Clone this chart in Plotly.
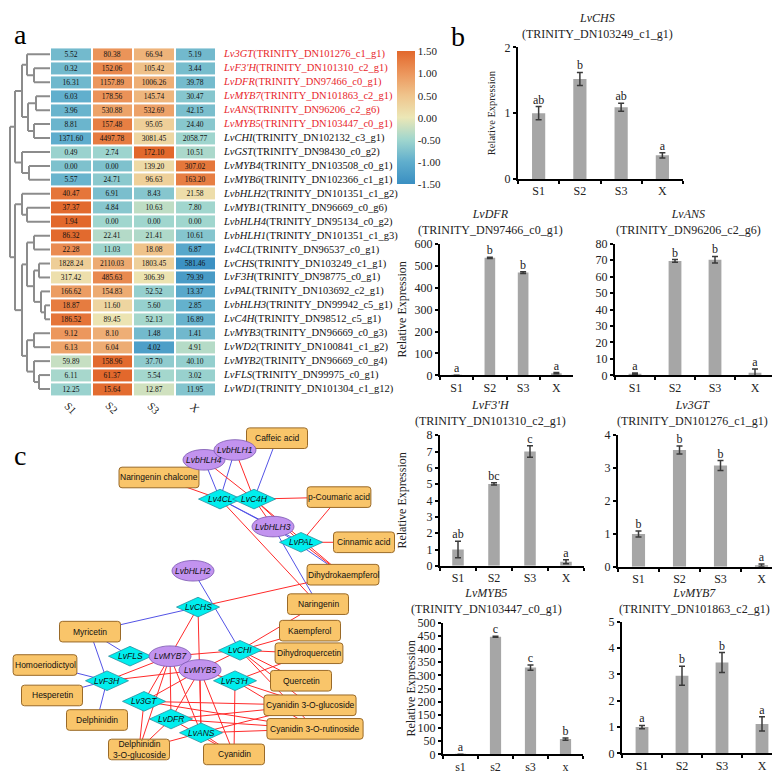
import numpy as np
import plotly.graph_objects as go

W, H = 780, 774
def fx(p): return p / W
def fy(p): return 1 - p / H

SERIF = "Liberation Serif, Times New Roman, serif"
SANS = "Liberation Sans, Arial, sans-serif"

# ---------------- heatmap data ----------------
samples = ["S1", "S2", "S3", "X"]
genes = ["Lv3GT", "LvF3'H", "LvDFR", "LvMYB7", "LvANS", "LvMYB5", "LvCHI", "LvGST", "LvMYB4",
         "LvMYB6", "LvbHLH2", "LvMYB1", "LvbHLH4", "LvbHLH1", "Lv4CL", "LvCHS", "LvF3H", "LvPAL",
         "LvbHLH3", "LvC4H", "LvMYB3", "LvWD2", "LvMYB2", "LvFLS", "LvWD1"]
trinity = ["TRINITY_DN101276_c1_g1", "TRINITY_DN101310_c2_g1", "TRINITY_DN97466_c0_g1",
           "TRINITY_DN101863_c2_g1", "TRINITY_DN96206_c2_g6", "TRINITY_DN103447_c0_g1",
           "TRINITY_DN102132_c3_g1", "TRINITY_DN98430_c0_g2", "TRINITY_DN103508_c0_g1",
           "TRINITY_DN102366_c1_g1", "TRINITY_DN101351_c1_g2", "TRINITY_DN96669_c0_g6",
           "TRINITY_DN95134_c0_g2", "TRINITY_DN101351_c1_g3", "TRINITY_DN96537_c0_g1",
           "TRINITY_DN103249_c1_g1", "TRINITY_DN98775_c0_g1", "TRINITY_DN103692_c2_g1",
           "TRINITY_DN99942_c5_g1", "TRINITY_DN98512_c5_g1", "TRINITY_DN96669_c0_g3",
           "TRINITY_DN100841_c1_g2", "TRINITY_DN96669_c0_g4", "TRINITY_DN99975_c0_g1",
           "TRINITY_DN101304_c1_g12"]
highlighted = ["Lv3GT", "LvF3'H", "LvDFR", "LvMYB7", "LvANS", "LvMYB5"]
fpkm_s1 = [5.52, 0.32, 16.31, 6.03, 3.96, 8.81, 1371.60, 0.49, 0.00, 5.57, 40.47, 37.37, 1.94,
           86.32, 22.28, 1828.24, 317.42, 166.62, 18.87, 186.52, 9.12, 6.13, 59.89, 6.11, 12.25]
fpkm_s2 = [80.38, 152.06, 1157.89, 178.56, 530.88, 157.48, 4497.78, 2.74, 0.00, 24.71, 6.91, 4.84,
           0.00, 22.41, 11.03, 2110.03, 485.63, 154.83, 11.60, 89.45, 8.10, 6.04, 158.96, 61.37, 15.64]
fpkm_s3 = [66.94, 105.42, 1006.26, 145.74, 532.69, 95.05, 3081.45, 172.10, 139.20, 96.63, 8.43,
           10.63, 0.00, 21.41, 18.08, 1803.45, 306.39, 52.52, 5.60, 52.13, 1.48, 4.02, 37.70, 5.54, 12.87]
fpkm_x = [5.19, 3.44, 39.78, 30.47, 42.15, 24.40, 2058.77, 10.51, 307.02, 163.20, 21.58, 7.80, 0.00,
          10.61, 6.87, 581.46, 79.39, 13.37, 2.85, 16.89, 1.41, 4.91, 40.10, 3.02, 11.95]
cbar_ticks = [1.5, 1.0, 0.5, 0.0, -0.5, -1.0, -1.5]

# dendrogram (merge height, left, right); leaves are row indices
top_tree = (35, (28, (23, 0, (16, 1, 2)), (22, (14, 3, 4), (16, 5, 6))), (28, 7, (21, 8, 9)))
bottom_tree = (35, (28, 10, (23, 11, 12)),
               (28, (23, (16, 13, 14), (16, (11, 15, 16), (9, 17, (5, 18, 19)))),
                (23, (16, 20, 21), (16, 22, (11, 23, 24)))))
row_tree = (40, top_tree, bottom_tree)

# ---------------- qRT-PCR bar data ----------------
chs_mean = [1.00, 1.52, 1.09, 0.36]; chs_err = [0.10, 0.10, 0.06, 0.04]; chs_sig = ["ab", "b", "ab", "a"]
dfr_mean = [0.8, 536, 469, 10]; dfr_err = [0.3, 3, 4, 3]; dfr_sig = ["a", "b", "b", "a"]
ans_mean = [1.0, 69.6, 70.3, 1.6]; ans_err = [0.5, 0.8, 2.0, 2.2]; ans_sig = ["a", "b", "b", "a"]
f3ph_mean = [1.0, 5.02, 7.0, 0.25]; f3ph_err = [0.5, 0.07, 0.35, 0.12]; f3ph_sig = ["ab", "bc", "c", "a"]
gt_mean = [1.0, 3.55, 3.08, 0.05]; gt_err = [0.09, 0.12, 0.15, 0.04]; gt_sig = ["b", "b", "b", "a"]
myb5_mean = [0.5, 447, 330, 58]; myb5_err = [0.3, 2, 10, 4]; myb5_sig = ["a", "c", "c", "b"]
myb7_mean = [1.0, 2.95, 3.45, 1.12]; myb7_err = [0.06, 0.36, 0.38, 0.27]; myb7_sig = ["a", "b", "b", "a"]
samples_lower = ["s1", "s2", "s3", "x"]

# ---------------- network data ----------------
node_names = ["Caffeic acid", "Naringenin chalcone", "p-Coumaric acid", "Cinnamic acid",
              "Dihydrokaempferol", "Naringenin", "Kaempferol", "Dihydroquercetin", "Quercetin",
              "Cyanidin 3-O-glucoside", "Cyanidin 3-O-rutinoside", "Cyanidin",
              "Delphinidin 3-O-glucoside", "Delphinidin", "Hesperetin", "Homoeriodictyol", "Myricetin",
              "Lv4CL", "LvC4H", "LvPAL", "LvCHS", "LvFLS", "LvCHI", "LvF3H", "LvF3'H", "Lv3GT",
              "LvDFR", "LvANS", "LvbHLH4", "LvbHLH1", "LvbHLH3", "LvbHLH2", "LvMYB7", "LvMYB5"]
node_kind = ["compound"] * 17 + ["enzyme"] * 11 + ["tf"] * 6
node_x = [269, 151, 331, 356, 335, 310, 302, 301, 293, 302, 307, 226, 131, 89, 44, 37, 82,
          212, 246, 293, 190, 122, 232, 99, 227, 136, 163, 193, 196, 227, 265, 185, 162, 192]
node_y = [431, 471, 491, 537, 570, 600, 627, 650, 678, 703, 727, 753, 748, 718, 693, 662, 628,
          493, 493, 537, 603, 653, 647, 678, 678, 699, 717, 731, 453, 443, 521, 566, 653, 667]
neg_edges = [("LvbHLH4", "Lv4CL"), ("LvbHLH1", "Lv4CL"), ("Caffeic acid", "LvC4H"),
             ("Lv4CL", "LvbHLH3"), ("Lv4CL", "LvPAL"), ("LvbHLH3", "Dihydrokaempferol"),
             ("LvbHLH3", "Naringenin"), ("LvbHLH2", "LvCHI"), ("LvCHS", "Myricetin"),
             ("Myricetin", "LvFLS"), ("Myricetin", "LvF3H"), ("Homoeriodictyol", "LvF3H"),
             ("Hesperetin", "LvF3H"), ("Delphinidin", "LvF3H")]
pos_edges = [("LvbHLH4", "LvC4H"), ("LvbHLH1", "LvC4H"), ("Naringenin chalcone", "Lv4CL"),
             ("LvC4H", "p-Coumaric acid"), ("LvC4H", "LvbHLH3"), ("LvC4H", "LvPAL"),
             ("LvC4H", "Dihydrokaempferol"), ("LvPAL", "Cinnamic acid"), ("LvPAL", "p-Coumaric acid"),
             ("LvPAL", "Dihydrokaempferol"), ("Lv4CL", "Naringenin"), ("Dihydrokaempferol", "LvCHS"),
             ("LvCHS", "LvMYB7"), ("LvCHS", "LvANS"), ("Naringenin", "LvCHI"), ("Kaempferol", "LvCHI"),
             ("LvCHI", "Dihydroquercetin"), ("LvCHI", "Quercetin"), ("LvCHI", "Cyanidin 3-O-glucoside"),
             ("LvCHI", "Cyanidin 3-O-rutinoside"), ("LvCHI", "LvMYB7"), ("LvCHI", "LvMYB5"),
             ("Dihydroquercetin", "LvF3'H"), ("LvF3'H", "Cyanidin"), ("LvF3'H", "Cyanidin 3-O-glucoside"),
             ("LvF3'H", "Cyanidin 3-O-rutinoside"), ("LvF3'H", "LvMYB5"), ("LvF3H", "LvMYB7"),
             ("LvF3H", "LvMYB5"), ("LvMYB7", "Lv3GT"), ("LvMYB7", "LvDFR"), ("LvMYB7", "LvANS"),
             ("LvMYB7", "Delphinidin 3-O-glucoside"), ("LvMYB5", "Lv3GT"), ("LvMYB5", "LvDFR"),
             ("LvMYB5", "LvANS"), ("LvMYB5", "Cyanidin"), ("Lv3GT", "Cyanidin 3-O-glucoside"),
             ("Lv3GT", "Cyanidin 3-O-rutinoside"), ("Lv3GT", "Delphinidin 3-O-glucoside"),
             ("LvDFR", "Cyanidin 3-O-glucoside"), ("LvDFR", "Cyanidin 3-O-rutinoside"),
             ("LvDFR", "Delphinidin 3-O-glucoside"), ("LvDFR", "Cyanidin"),
             ("LvANS", "Cyanidin 3-O-glucoside"), ("LvANS", "Cyanidin 3-O-rutinoside"),
             ("LvANS", "Delphinidin 3-O-glucoside"), ("LvANS", "Cyanidin")]

# =====================================================================
fig = go.Figure()
lay = {}

# ---- heatmap ----
vals = np.array([fpkm_s1, fpkm_s2, fpkm_s3, fpkm_x]).T
zrow = (vals - vals.mean(axis=1, keepdims=True)) / vals.std(axis=1, ddof=1, keepdims=True)
cells_txt = [[f"{v:.2f}" for v in row] for row in vals]
cscale = [[0.0, "rgb(58,143,194)"], [0.1667, "rgb(96,174,205)"], [0.3333, "rgb(160,214,206)"],
          [0.5, "rgb(236,231,182)"], [0.6667, "rgb(239,196,140)"], [0.8333, "rgb(236,150,92)"],
          [1.0, "rgb(226,104,44)"]]
fig.add_trace(go.Heatmap(
    z=zrow, x=list(range(4)), y=list(range(len(genes))), text=cells_txt, texttemplate="%{text}",
    textfont=dict(family=SERIF, size=7.5, color="#111"), colorscale=cscale, zmin=-1.5, zmax=1.5,
    xgap=2, ygap=2, xaxis="x", yaxis="y", hoverinfo="skip",
    colorbar=dict(x=fx(389), xanchor="left", y=fy(37), yanchor="top", len=135 / H, lenmode="fraction",
                  thickness=18, thicknessmode="pixels", xpad=0, ypad=0, outlinewidth=0,
                  tickvals=cbar_ticks, ticktext=[f"{t:.2f}" for t in cbar_ticks], ticks="",
                  tickfont=dict(family=SERIF, size=11, color="#222"))))
lay["xaxis"] = dict(domain=[fx(42), fx(208)], range=[-0.5, 3.5], visible=False, fixedrange=True)
lay["yaxis"] = dict(domain=[fy(388), fy(33)], range=[len(genes) - 0.5, -0.5], visible=False, fixedrange=True)

# ---- dendrogram ----
dx, dy = [], []
def walk(node):
    if isinstance(node, int):
        return float(node), 0.0
    h, left, right = node
    yl, hl = walk(left)
    yr, hr = walk(right)
    dx.extend([hl, h, None, hr, h, None, h, h, None])
    dy.extend([yl, yl, None, yr, yr, None, yl, yr, None])
    return (yl + yr) / 2, h
walk(row_tree)
fig.add_trace(go.Scatter(x=dx, y=dy, mode="lines", line=dict(color="#8c8c8c", width=2),
                         xaxis="x2", yaxis="y2", hoverinfo="skip", showlegend=False))
lay["xaxis2"] = dict(domain=[0, fx(42)], range=[42, 0], visible=False, fixedrange=True)
lay["yaxis2"] = dict(domain=[fy(388), fy(33)], range=[len(genes) - 0.5, -0.5], visible=False, fixedrange=True)

ann = []
for i, (g, t) in enumerate(zip(genes, trinity)):
    col = "#e8262b" if g in highlighted else "#111"
    ann.append(dict(x=fx(213), xref="paper", xanchor="left", y=i, yref="y", yanchor="middle",
                    text=f"<i>{g}</i>({t})", showarrow=False,
                    font=dict(family=SERIF, size=10.5, color=col)))
for j, s in enumerate(samples):
    ann.append(dict(x=j, xref="x", y=fy(400), yref="paper", xanchor="center", yanchor="middle",
                    text=s, textangle=45, showarrow=False,
                    font=dict(family=SERIF, size=11, color="#222")))

# panel letters
for letter, px, py in [("a", 12, 20), ("b", 450, 22), ("c", 12, 449)]:
    ann.append(dict(x=fx(px), y=fy(py), xref="paper", yref="paper", xanchor="center", yanchor="middle",
                    text=letter, showarrow=False, font=dict(family=SERIF, size=28, color="#000")))

# ---- bar charts ----
bar_sets = [
    ("LvCHS", "TRINITY_DN103249_c1_g1", samples, chs_mean, chs_err, chs_sig),
    ("LvDFR", "TRINITY_DN97466_c0_g1", samples, dfr_mean, dfr_err, dfr_sig),
    ("LvANS", "TRINITY_DN96206_c2_g6", samples, ans_mean, ans_err, ans_sig),
    ("LvF3'H", "TRINITY_DN101310_c2_g1", samples, f3ph_mean, f3ph_err, f3ph_sig),
    ("Lv3GT", "TRINITY_DN101276_c1_g1", samples, gt_mean, gt_err, gt_sig),
    ("LvMYB5", "TRINITY_DN103447_c0_g1", samples_lower, myb5_mean, myb5_err, myb5_sig),
    ("LvMYB7", "TRINITY_DN101863_c2_g1", samples, myb7_mean, myb7_err, myb7_sig),
]
# panel geometry in pixels: left, right, top, bottom, ymax, dtick, title center x, title y, y-title x, y-title size
panel_geom = [
    (510, 675, 33, 167, 2, 1, 589, 11, 483, 10.5),
    (432, 565, 233, 367, 600, 100, 482, 211, 394, 12),
    (607, 767, 233, 367, 80, 10, 680, 211, None, 12),
    (432, 576, 428, 561, 8, 1, 482, 405, 394, 12),
    (610, 774, 428, 562, 4, 1, 684, 405, None, 12),
    (435, 575, 619, 753, 500, 50, 478, 597, 403, 12),
    (614, 774, 618, 752, 5, 1, 686, 597, None, 12),
]
for k, ((gene, tid, cats, mean, err, sig), geo) in enumerate(zip(bar_sets, panel_geom)):
    left, right, top, bottom, ymax, dtick, tx, ty, ytx, yts = geo
    ax = k + 3
    xa, ya = f"x{ax}", f"y{ax}"
    fig.add_trace(go.Bar(x=cats, y=mean, width=0.32, marker=dict(color="#a6a6a6", line=dict(width=0)),
                         error_y=dict(type="data", array=err, color="#3a3a3a", thickness=1.5, width=3),
                         xaxis=xa, yaxis=ya, hoverinfo="skip", showlegend=False))
    fig.add_trace(go.Scatter(x=cats, y=[m + e for m, e in zip(mean, err)], mode="text", text=sig,
                             textposition="top center", cliponaxis=False,
                             textfont=dict(family=SERIF, size=12, color="#222"),
                             xaxis=xa, yaxis=ya, hoverinfo="skip", showlegend=False))
    lay[f"xaxis{ax}"] = dict(domain=[fx(left), fx(right)], type="category", showline=True, linecolor="#000",
                             linewidth=2, ticks="outside", tickson="boundaries", ticklen=3, tickwidth=1.5,
                             tickcolor="#000", showgrid=False, zeroline=False, anchor=ya, fixedrange=True,
                             tickfont=dict(family=SERIF, size=12, color="#222"))
    lay[f"yaxis{ax}"] = dict(domain=[fy(bottom), fy(top)], range=[0, ymax], dtick=dtick, tick0=0,
                             showline=True, linecolor="#000", linewidth=2, ticks="outside", ticklen=3,
                             tickwidth=1.5, tickcolor="#000", showgrid=False, zeroline=False, anchor=xa,
                             fixedrange=True, tickfont=dict(family=SERIF, size=12, color="#222"))
    ann.append(dict(x=fx(tx), y=fy(ty), xref="paper", yref="paper", xanchor="center", yanchor="middle",
                    showarrow=False, text=f"<i>{gene}</i><br>({tid})", align="center",
                    font=dict(family=SERIF, size=12, color="#222")))
    if ytx is not None:
        ann.append(dict(x=fx(ytx), y=fy((top + bottom) / 2), xref="paper", yref="paper",
                        xanchor="center", yanchor="middle", showarrow=False,
                        text="Relative Expression", textangle=-90,
                        font=dict(family=SERIF, size=yts, color="#222")))

# ---- network ----
pos = {n: (x, y) for n, x, y in zip(node_names, node_x, node_y)}
for edges, colr in [(neg_edges, "#5353e6"), (pos_edges, "#ff2a2a")]:
    ex, ey = [], []
    for a, b in edges:
        ex.extend([pos[a][0], pos[b][0], None])
        ey.extend([pos[a][1], pos[b][1], None])
    fig.add_trace(go.Scatter(x=ex, y=ey, mode="lines", line=dict(color=colr, width=1),
                             xaxis="x10", yaxis="y10", hoverinfo="skip", showlegend=False))
lay["xaxis10"] = dict(domain=[0, 1], range=[0, W], visible=False, fixedrange=True)
lay["yaxis10"] = dict(domain=[0, 1], range=[H, 0], visible=False, fixedrange=True)

shapes = []
def rrect(cx, cy, w, h, r=3):
    x0, x1, y0, y1 = cx - w / 2, cx + w / 2, cy - h / 2, cy + h / 2
    return (f"M{x0 + r},{y0} L{x1 - r},{y0} Q{x1},{y0} {x1},{y0 + r} L{x1},{y1 - r} Q{x1},{y1} {x1 - r},{y1} "
            f"L{x0 + r},{y1} Q{x0},{y1} {x0},{y1 - r} L{x0},{y0 + r} Q{x0},{y0} {x0 + r},{y0} Z")
for name, kind, cx, cy in zip(node_names, node_kind, node_x, node_y):
    if kind == "compound":
        two_line = name.startswith("Delphinidin 3")
        label = name.replace(" 3-O-", "<br>3-O-") if two_line else name
        nchar = 13 if two_line else len(name)
        w = max(61, 4.05 * nchar + 3)
        shapes.append(dict(type="path", path=rrect(cx, cy, w, 21), xref="x10", yref="y10",
                           fillcolor="#f9c56a", line=dict(color="#9a6a28", width=1), layer="above"))
        ann.append(dict(x=cx, y=cy, xref="x10", yref="y10", text=label, showarrow=False,
                        xanchor="center", yanchor="middle",
                        font=dict(family=SANS, size=8.5, color="#111")))
    elif kind == "enzyme":
        w, h = 43, 20
        shapes.append(dict(type="path", xref="x10", yref="y10", layer="above",
                           path=f"M{cx - w / 2},{cy} L{cx},{cy - h / 2} L{cx + w / 2},{cy} L{cx},{cy + h / 2} Z",
                           fillcolor="#00eeee", line=dict(color="#2a8f9f", width=0.8)))
        ann.append(dict(x=cx, y=cy, xref="x10", yref="y10", text=f"<i>{name}</i>", showarrow=False,
                        xanchor="center", yanchor="middle",
                        font=dict(family=SANS, size=8.5, color="#111")))
    else:
        w, h = 42, 21
        shapes.append(dict(type="circle", xref="x10", yref="y10", layer="above",
                           x0=cx - w / 2, x1=cx + w / 2, y0=cy - h / 2, y1=cy + h / 2,
                           fillcolor="#c293ef", line=dict(color="#7a55b0", width=0.8)))
        ann.append(dict(x=cx, y=cy, xref="x10", yref="y10", text=f"<i>{name}</i>", showarrow=False,
                        xanchor="center", yanchor="middle",
                        font=dict(family=SANS, size=8.5, color="#111")))

fig.update_layout(width=W, height=H, margin=dict(l=0, r=0, t=0, b=0), paper_bgcolor="white",
                  plot_bgcolor="rgba(0,0,0,0)", showlegend=False, annotations=ann, shapes=shapes,
                  barmode="overlay", **lay)
fig.write_html("out.html")
